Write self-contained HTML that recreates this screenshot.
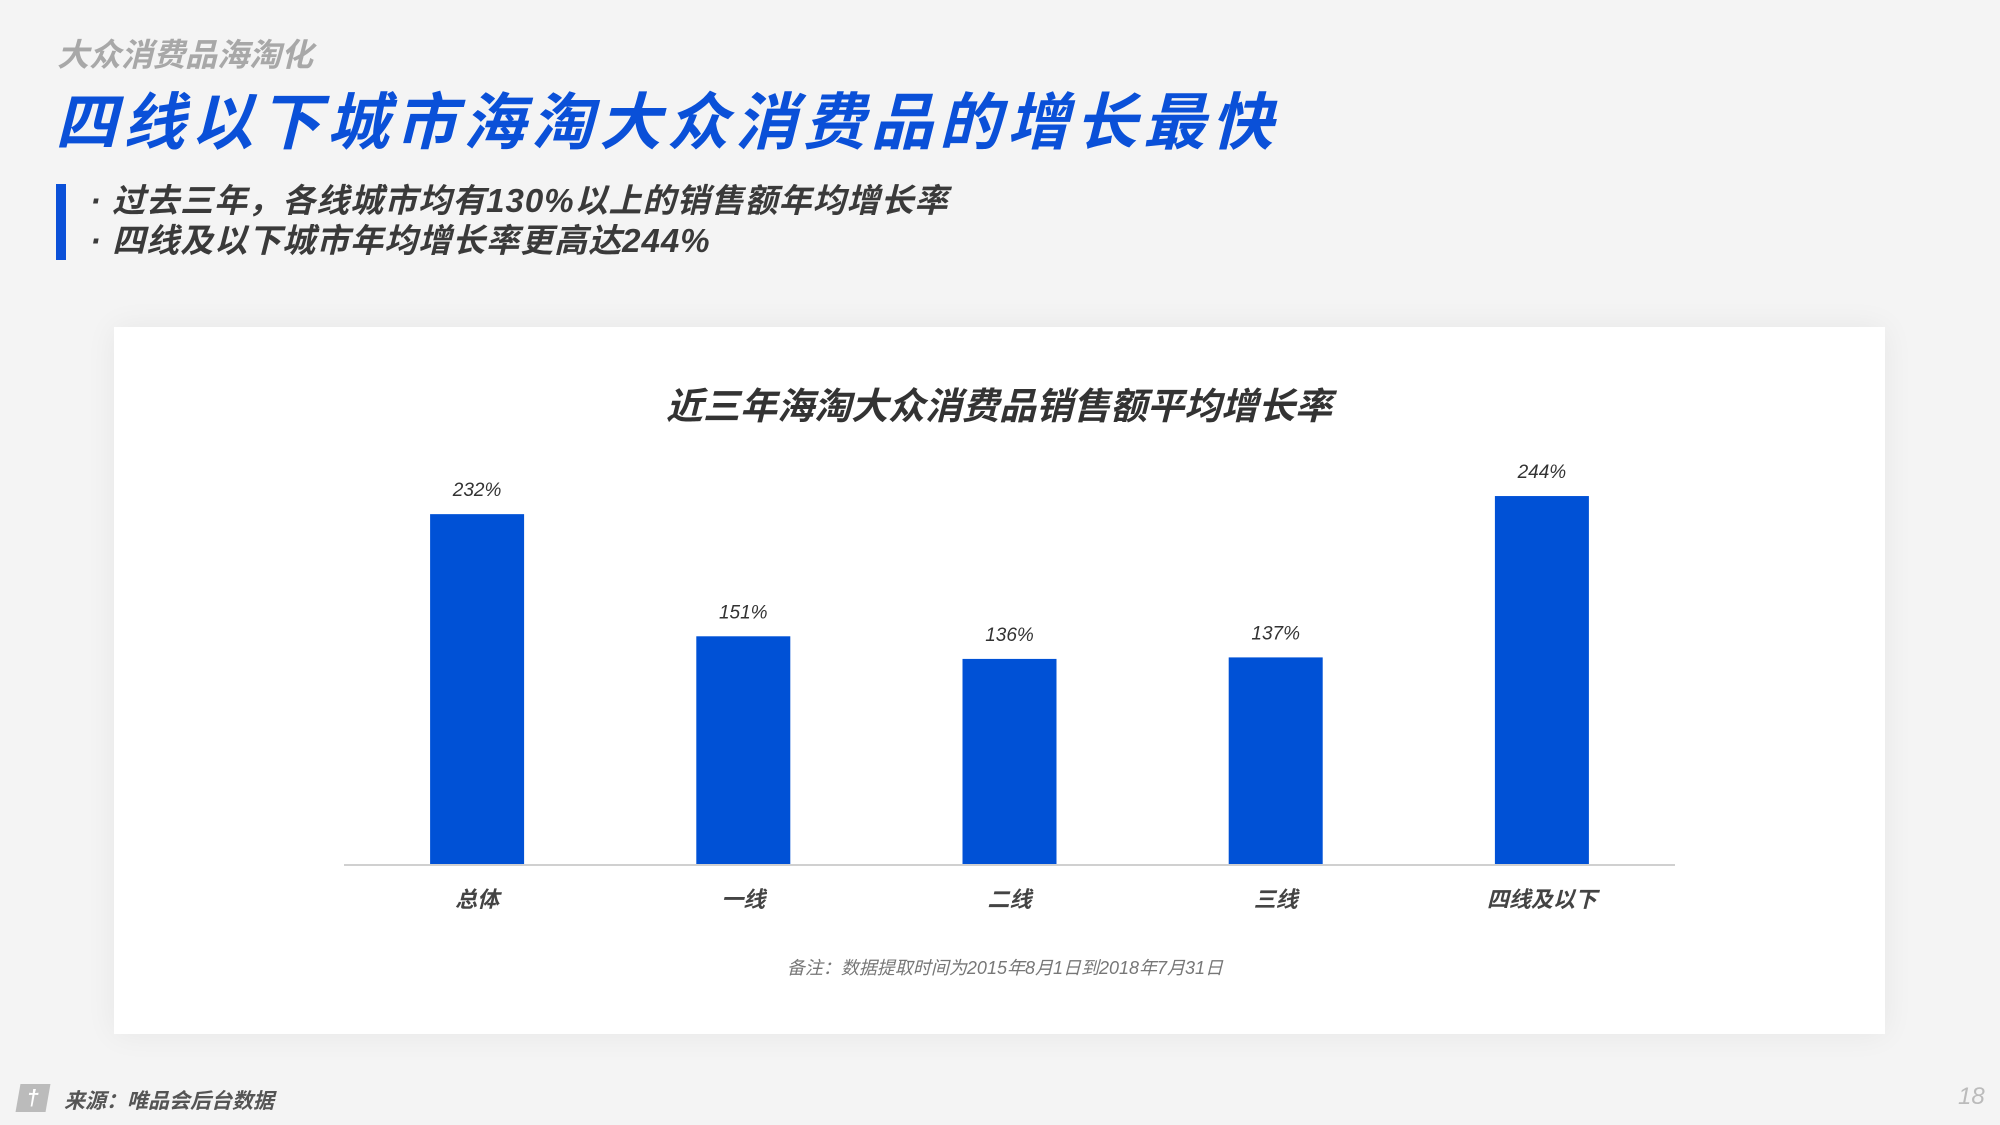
<!DOCTYPE html>
<html><head><meta charset="utf-8"><style>
*{margin:0;padding:0;box-sizing:border-box}
body{width:2000px;height:1125px;background:#f4f4f4;position:relative;overflow:hidden;font-family:"Liberation Sans","Noto Sans CJK SC",sans-serif}
.abs{position:absolute;white-space:nowrap}
</style></head><body>
<div class="abs" style="left:57px;top:30px;font-size:32px;color:#a8a8a8;font-style:italic;font-weight:bold">大众消费品海淘化</div>
<div class="abs" style="left:55px;top:84px;font-size:62px;line-height:80px;color:#0a50d8;font-style:italic;font-weight:bold;letter-spacing:6px">四线以下城市海淘大众消费品的增长最快</div>
<div class="abs" style="left:56px;top:184px;width:10px;height:76px;background:#0a50d8"></div>
<div class="abs" style="left:90px;top:181px;font-size:33px;line-height:40px;color:#3a3a3a;font-style:italic;font-weight:bold;letter-spacing:1px">· 过去三年，各线城市均有130%以上的销售额年均增长率</div>
<div class="abs" style="left:90px;top:221px;font-size:33px;line-height:40px;color:#3a3a3a;font-style:italic;font-weight:bold;letter-spacing:1px">· 四线及以下城市年均增长率更高达244%</div>
<div class="abs" style="left:114px;top:327px;width:1771px;height:707px;background:#fff;box-shadow:0 0 30px rgba(0,0,0,0.06)"></div>
<svg class="abs" style="left:0;top:0" width="2000" height="1125" id="chart">
<text x="999" y="419" text-anchor="middle" font-size="37" font-weight="bold" font-style="italic" fill="#333">近三年海淘大众消费品销售额平均增长率</text>
<line x1="344" y1="865" x2="1675" y2="865" stroke="#d0d0d0" stroke-width="2"/>
<text x="1005" y="974" text-anchor="middle" font-size="18" font-style="italic" fill="#777">备注：数据提取时间为2015年8月1日到2018年7月31日</text>
</svg>
<div class="abs" style="left:18px;top:1084px;width:30px;height:28px;background:#bbb;transform:skewX(-10deg);color:#fff;font-size:22px;font-weight:bold;text-align:center;line-height:28px">†</div>
<div class="abs" style="left:64px;top:1085px;font-size:21px;color:#555;font-style:italic;font-weight:bold">来源：唯品会后台数据</div>
<div class="abs" style="left:1958px;top:1083px;font-size:24px;color:#bbb;font-style:italic">18</div>
<script>
const categories=["总体","一线","二线","三线","四线及以下"];
const values=[232,151,136,137,244];
const valueLabels=["232%","151%","136%","137%","244%"];
const svg=document.getElementById('chart');
const NS='http://www.w3.org/2000/svg';
const x0=344,x1=1675,base=864,pxPer=1.508,bw=94;
const step=(x1-x0)/categories.length;
function xs(i){return x0+step*(i+0.5);}
function ys(v){return base-v*pxPer;}
categories.forEach((c,i)=>{
  const cx=xs(i),y=ys(values[i]);
  const r=document.createElementNS(NS,'rect');
  r.setAttribute('x',cx-bw/2);
  r.setAttribute('y',y);
  r.setAttribute('width',bw);
  r.setAttribute('height',base-y);
  r.setAttribute('fill','#0051d6');
  
  
  svg.appendChild(r);
  const t=document.createElementNS(NS,'text');
  t.setAttribute('x',cx);
  t.setAttribute('y',y-18);
  t.setAttribute('text-anchor','middle');
  t.setAttribute('font-size','19');
  t.setAttribute('font-style','italic');
  t.setAttribute('fill','#333');
  t.textContent=valueLabels[i];
  
  
  svg.appendChild(t);
  const l=document.createElementNS(NS,'text');
  l.setAttribute('x',cx);
  l.setAttribute('y',907);
  l.setAttribute('text-anchor','middle');
  l.setAttribute('font-size','22');
  l.setAttribute('font-style','italic');
  l.setAttribute('font-weight','bold');
  l.setAttribute('fill','#444');
  l.textContent=c;
  
  
  svg.appendChild(l);
});
</script>
</body></html>
